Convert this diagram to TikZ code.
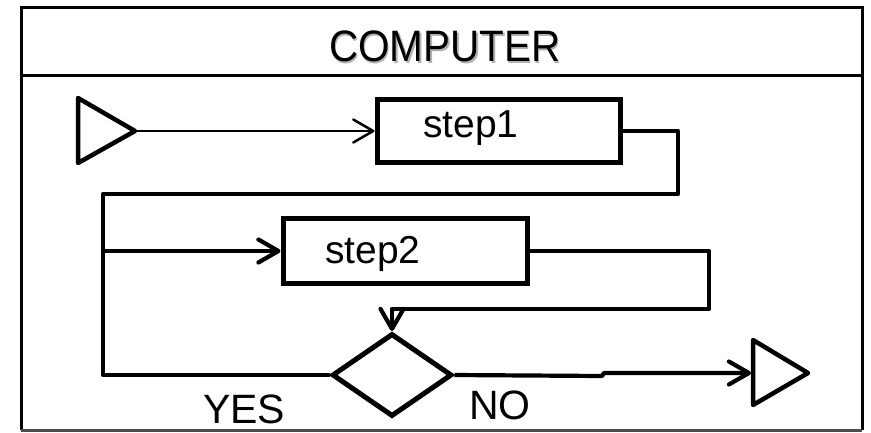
\documentclass[tikz,border=0pt]{standalone}
\usepackage{fontspec}
\setmainfont{Liberation Sans}
\usetikzlibrary{arrows.meta,shapes.geometric}
% title text with a soft grey drop shadow behind it
\newcommand{\shadowtext}[1]{\rlap{\hspace{1.5pt}\raisebox{-1.5pt}{\textcolor{black!30}{#1}}}#1}
\begin{document}
\begin{tikzpicture}[x=1pt,y=-1pt,
  frameline/.style={line width=3pt},
  stepbox/.style={draw,rectangle,line width=5pt,inner sep=0pt},
  decision/.style={draw,diamond,line width=5pt,inner sep=0pt},
  flow/.style={line width=4.2pt,line join=round},
  tip/.style={-{Straight Barb[length=20pt,width=23pt,round]}},
  terminal/.style={line width=4.5pt,line join=round},
  lbl/.style={inner sep=0pt,anchor=base west,font=\fontsize{39}{42}\selectfont},
  branch/.style={inner sep=0pt,anchor=base west,font=\fontsize{41}{44}\selectfont},
  heading/.style={inner sep=0pt,anchor=base,font=\fontsize{44}{46}\selectfont},
]
\useasboundingbox (0,0) rectangle (871,432);

% outer frame and title band
\draw[frameline] (21,430) -- (21,7) -- (862,7) -- (862,430);
\draw[line width=2.5pt,black!70] (21,430.5) -- (862,430.5);
\draw[frameline] (21,75) -- (862,75);
\node[heading] (title) at (445,61.5) {\scalebox{0.92}[1]{\shadowtext{COMPUTER}}};

% start and end terminals
\draw[terminal] (78,98) -- (78,163) -- (135,131) -- cycle;
\coordinate (start) at (135,131);
\draw[terminal] (753,340) -- (753,405) -- (808,373) -- cycle;
\coordinate (stop) at (751,373);

% process steps and decision
\node[stepbox,minimum width=243pt,minimum height=63pt] (step1) at (498.5,131) {};
\node[lbl] (step1txt) at (423,137.5) {step1};
\node[stepbox,minimum width=244pt,minimum height=65pt] (step2) at (405,251) {};
\node[lbl] (step2txt) at (325,263.5) {step2};
\node[decision,minimum width=120pt,minimum height=83pt] (dec) at (392,375) {};

% junction where the loops meet
\coordinate (J) at (103,251);

% connectors
\draw[tip,line width=2.5pt] (start) -- (step1.west);
\draw[flow] (step1.east) -| (678,194) -| (J);
\draw[flow,tip] (J) -- (step2.west);
\draw[flow,tip] (step2.east) -| (709,309) -| (dec.north);
\draw[flow] (dec.west) -| (J);
\draw[flow,tip] (dec.east) -- (602,376) -- (604,373) -- (stop);

% branch labels
\node[branch] (yes) at (203,423) {YES};
\node[branch] (no) at (469,419) {NO};
\end{tikzpicture}
\end{document}
